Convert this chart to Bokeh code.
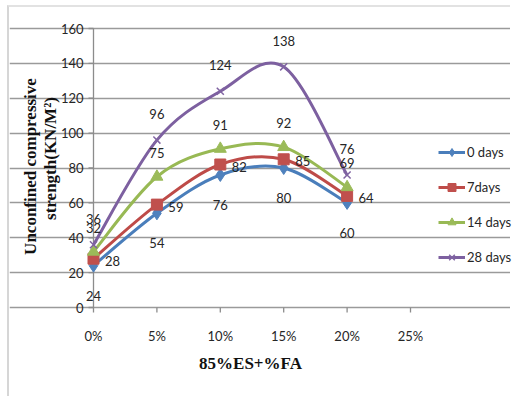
import numpy as np
from bokeh.plotting import figure
from bokeh.models import (ColumnDataSource, LabelSet, Label, Legend, LegendItem,
                          FixedTicker, Range1d, Grid)
from bokeh.core.properties import value
from bokeh.embed import file_html
from bokeh.resources import INLINE

# ---- data ----
x_pct = [0, 5, 10, 15, 20]
x_tick_values = [0, 5, 10, 15, 20, 25]
x_tick_labels = ["0%", "5%", "10%", "15%", "20%", "25%"]
y_tick_values = [0, 20, 40, 60, 80, 100, 120, 140, 160]
y_tick_labels = [str(v) for v in y_tick_values]
days0 = [24, 54, 76, 80, 60]
days7 = [28, 59, 82, 85, 64]
days14 = [32, 75, 91, 92, 69]
days28 = [36, 96, 124, 138, 76]
series_names = ["0 days", "7days", "14 days", "28 days"]
x_title = "85%ES+%FA"
y_title = ["Unconfined compressive", "strength(KN/M\u00b2)"]

series = [days0, days7, days14, days28]
line_colors = ["#4A7EBB", "#BE4B48", "#98B954", "#7D60A0"]
fill_colors = ["#4F81BD", "#C0504D", "#9BBB59", "#8064A2"]
markers = ["diamond", "square", "triangle", "x"]
msizes = [13, 11, 12, 10]
lab_off = [(0, -30), (19, -2), (0, 24), (0, 26)]

FONT = "Lato"
SERIF = "Liberation Serif"

# layout: canvas 503x391 placed at (9,7); axes drawn inside the frame
W, H = 503, 391
PX_X = 63.4 / 5.0        # px per x unit
PX_Y = 279.0 / 160.0     # px per y unit
OX, OY = 93 - 9, 307 - 7  # origin inside canvas
x_start = -OX / PX_X
x_end = (W - OX) / PX_X
y_start = -(H - OY) / PX_Y
y_end = OY / PX_Y

p = figure(width=W, height=H, output_backend="svg", toolbar_location=None,
           x_range=Range1d(x_start, x_end), y_range=Range1d(y_start, y_end),
           x_axis_type=None, y_axis_type=None,
           min_border_left=0, min_border_right=0, min_border_top=0,
           min_border_bottom=0)
p.styles = {"border-left": "2px solid #d6d6d6", "border-top": "2px solid #e2e2e2",
            "margin-left": "7px", "margin-top": "5px"}
p.outline_line_color = None
p.background_fill_color = "white"
p.border_fill_color = "white"

AX_COL = "#8c8c8c"
x0v, x1v = x_tick_values[0], x_tick_values[-1]
y0v, y1v = y_tick_values[0], y_tick_values[-1]
# horizontal gridlines (0 line acts as x axis line)
p.add_layout(Grid(dimension=1, ticker=FixedTicker(ticks=y_tick_values),
                  bounds=(x0v, x1v),
                  grid_line_color="#9a9a9a", grid_line_width=1.3))
# y axis line
p.segment(x0=[x0v], x1=[x0v], y0=[y0v], y1=[y1v], line_color=AX_COL, line_width=1.3)
TICK = 5
p.segment(x0=[x0v] * len(y_tick_values),
          x1=[x0v - TICK / PX_X] * len(y_tick_values),
          y0=y_tick_values, y1=y_tick_values, line_color=AX_COL, line_width=1.3)
p.segment(x0=x_tick_values, x1=x_tick_values,
          y0=[y0v] * len(x_tick_values),
          y1=[y0v - TICK / PX_Y] * len(x_tick_values),
          line_color=AX_COL, line_width=1.3)

ysrc = ColumnDataSource(dict(x=[x0v] * len(y_tick_values),
                             y=y_tick_values, t=y_tick_labels))
p.add_layout(LabelSet(x="x", y="y", text="t", source=ysrc, x_offset=-10,
                      text_align="right", text_baseline="middle",
                      text_font=value(FONT), text_font_size="13px",
                      text_color="#262626"))
xsrc = ColumnDataSource(dict(x=x_tick_values, y=[y0v] * len(x_tick_values),
                             t=x_tick_labels))
p.add_layout(LabelSet(x="x", y="y", text="t", source=xsrc, y_offset=-28,
                      text_align="center", text_baseline="middle",
                      text_font=value(FONT), text_font_size="13px",
                      text_color="#262626"))

items = []
for vals, name, lc, fc, mk, ms, (dx, dy) in zip(series, series_names, line_colors,
                                                  fill_colors, markers, msizes, lab_off):
    xs = np.array(x_pct, dtype=float)
    ys = np.array(vals, dtype=float)
    n = len(xs)
    bx0, by0, bx1, by1, cx0, cy0, cx1, cy1 = [], [], [], [], [], [], [], []
    for i in range(n - 1):
        pm = i - 1 if i > 0 else i
        pp = i + 2 if i + 2 < n else i + 1
        bx0.append(xs[i]); by0.append(ys[i])
        bx1.append(xs[i + 1]); by1.append(ys[i + 1])
        cx0.append(xs[i] + (xs[i + 1] - xs[pm]) / 6)
        cy0.append(ys[i] + (ys[i + 1] - ys[pm]) / 6)
        cx1.append(xs[i + 1] - (xs[pp] - xs[i]) / 6)
        cy1.append(ys[i + 1] - (ys[pp] - ys[i]) / 6)
    p.bezier(x0=bx0, y0=by0, x1=bx1, y1=by1, cx0=cx0, cy0=cy0, cx1=cx1, cy1=cy1,
             line_color=lc, line_width=3)
    dummy = p.line(x=[np.nan], y=[np.nan], line_color=lc, line_width=3)
    src = ColumnDataSource(dict(x=x_pct, y=vals, t=[str(v) for v in vals]))
    if mk == "x":
        sr = p.scatter("x", "y", source=src, marker=mk, size=ms, line_color=fc,
                       line_width=1.5)
    else:
        sr = p.scatter("x", "y", source=src, marker=mk, size=ms, fill_color=fc,
                       line_color=fc)
    items.append(LegendItem(label=name, renderers=[dummy, sr]))
    p.add_layout(LabelSet(x="x", y="y", text="t", source=src, x_offset=dx, y_offset=dy,
                          text_align="center", text_baseline="middle",
                          text_font=value(FONT), text_font_size="13px",
                          text_color="#262626"))

legend = Legend(items=items, location=(429, 131), orientation="vertical",
                glyph_width=27, glyph_height=20, label_height=20, spacing=15,
                label_standoff=2, padding=0, margin=0,
                label_text_font=FONT, label_text_font_size="13px",
                label_text_color="#262626", border_line_color=None,
                background_fill_alpha=0)
p.add_layout(legend, "center")

# axis titles (screen units measured from the canvas bottom-left)
p.add_layout(Label(x=21, y=232, x_units="screen", y_units="screen",
                   text=y_title[0], angle=np.pi / 2,
                   text_align="center", text_baseline="middle",
                   text_font=SERIF, text_font_style="bold",
                   text_font_size="17px", text_color="#111111"))
p.add_layout(Label(x=41, y=240, x_units="screen", y_units="screen",
                   text=y_title[1], angle=np.pi / 2,
                   text_align="center", text_baseline="middle",
                   text_font=SERIF, text_font_style="bold",
                   text_font_size="17px", text_color="#111111"))
p.add_layout(Label(x=241, y=35, x_units="screen", y_units="screen",
                   text=x_title, text_align="center", text_baseline="middle",
                   text_font=SERIF, text_font_style="bold",
                   text_font_size="17px", text_color="#111111"))

open("out.html", "w").write(file_html(p, INLINE))
